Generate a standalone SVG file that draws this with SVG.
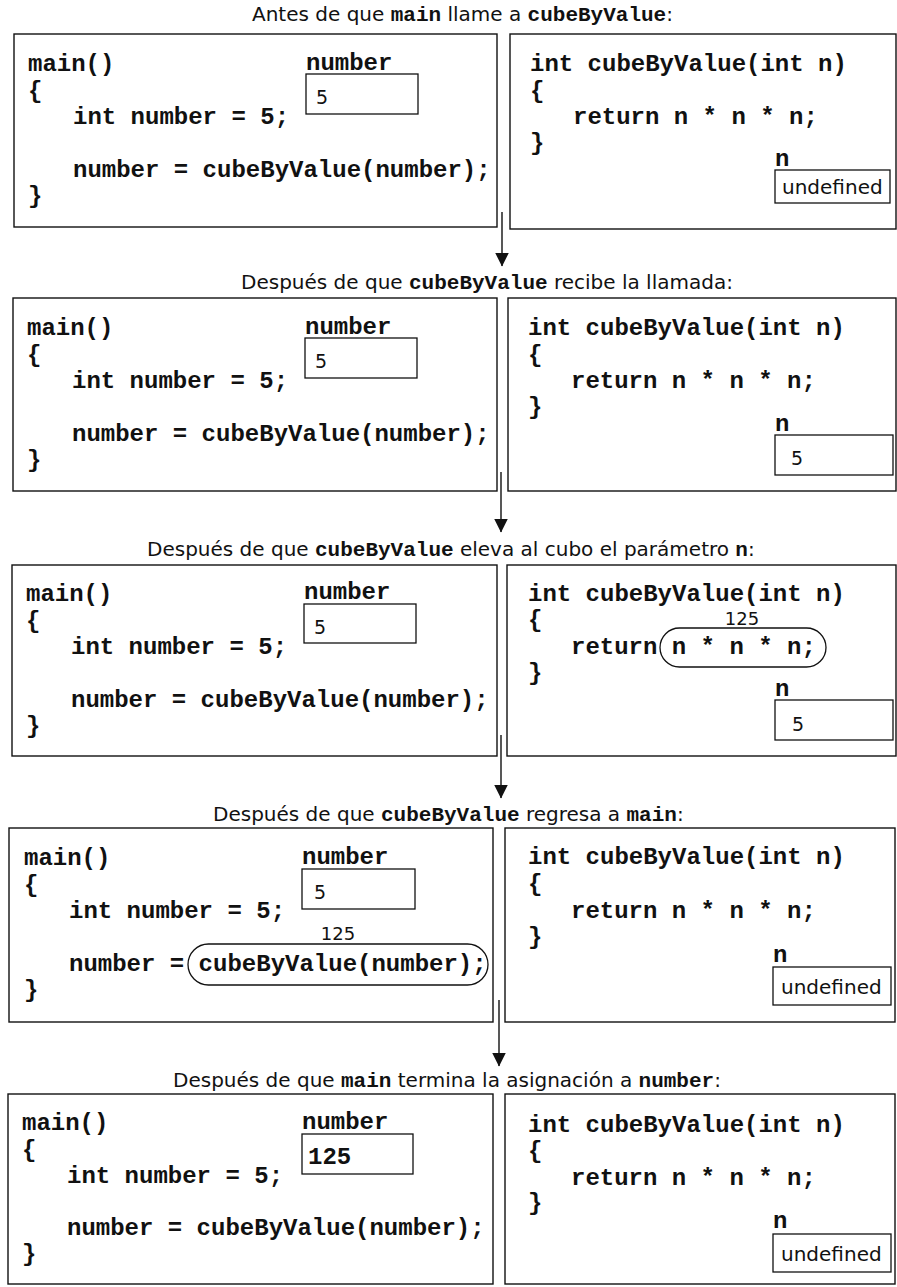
<svg xmlns="http://www.w3.org/2000/svg" width="897" height="1287" viewBox="0 0 897 1287">
  <style>
    .code { font-family: "Liberation Mono", "Courier New", monospace; font-weight: bold; font-size: 24px; fill: #111; }
    .ttl { font-family: "DejaVu Sans", "Liberation Sans", sans-serif; font-size: 20px; fill: #111; }
    .ttl .m { font-family: "Liberation Mono", "Courier New", monospace; font-weight: bold; font-size: 21px; }
    .val { font-family: "DejaVu Sans", "Liberation Sans", sans-serif; font-size: 19px; fill: #111; }
    .res { font-family: "DejaVu Sans", "Liberation Sans", sans-serif; font-size: 18px; fill: #111; }
    .undef { font-family: "DejaVu Sans", "Liberation Sans", sans-serif; font-size: 20px; fill: #111; }
    .frame { fill: #fff; stroke: #111; stroke-width: 1.4; }
    .cell { fill: none; stroke: #111; stroke-width: 1.3; }
    .oval { fill: none; stroke: #111; stroke-width: 1.3; }
    .flow { stroke: #111; stroke-width: 1.4; fill: none; }
  </style>
  <defs>
    <marker id="head" viewBox="0 0 14 16" refX="13.5" refY="7" markerWidth="14" markerHeight="16" markerUnits="userSpaceOnUse" orient="auto">
      <path d="M0,0 L14,7 L0,14 Z" fill="#111"/>
    </marker>
  </defs>

  <rect width="897" height="1287" fill="#fff"/>

  <!-- step titles -->
  <g id="titles">
    <text class="ttl" x="252" y="21">Antes de que <tspan class="m">main</tspan> llame a <tspan class="m">cubeByValue</tspan>:</text>
    <text class="ttl" x="241" y="289">Después de que <tspan class="m">cubeByValue</tspan> recibe la llamada:</text>
    <text class="ttl" x="147" y="556">Después de que <tspan class="m">cubeByValue</tspan> eleva al cubo el parámetro <tspan class="m">n</tspan>:</text>
    <text class="ttl" x="213" y="821">Después de que <tspan class="m">cubeByValue</tspan> regresa a <tspan class="m">main</tspan>:</text>
    <text class="ttl" x="173" y="1087">Después de que <tspan class="m">main</tspan> termina la asignación a <tspan class="m">number</tspan>:</text>
  </g>

  <!-- flow between the steps -->
  <g id="connectors">
    <line class="flow" x1="502" y1="212" x2="502" y2="266" marker-end="url(#head)"/>
    <line class="flow" x1="501" y1="472" x2="501" y2="532" marker-end="url(#head)"/>
    <line class="flow" x1="501" y1="735" x2="501" y2="798" marker-end="url(#head)"/>
    <line class="flow" x1="499" y1="1000" x2="499" y2="1066" marker-end="url(#head)"/>
  </g>

  <!-- step 1 -->
  <g id="main-1">
    <rect class="frame" x="14" y="34" width="483" height="193"/>
    <text class="code" x="28" y="71">main()</text>
    <text class="code" x="28" y="98">{</text>
    <text class="code" x="73" y="124">int number = 5;</text>
    <text class="code" x="73" y="177">number = cubeByValue(number);</text>
    <text class="code" x="28" y="203">}</text>
    <text class="code" x="306" y="70">number</text>
    <rect class="cell" x="306" y="74" width="112" height="40"/>
    <text class="val" x="316" y="104">5</text>
  </g>
  <g id="cube-1">
    <rect class="frame" x="510" y="34" width="386" height="195"/>
    <text class="code" x="530" y="71">int cubeByValue(int n)</text>
    <text class="code" x="530" y="98">{</text>
    <text class="code" x="573" y="124">return n * n * n;</text>
    <text class="code" x="530" y="150">}</text>
    <text class="code" x="775" y="166">n</text>
    <rect class="cell" x="775" y="170" width="115" height="33"/>
    <text class="undef" x="782" y="194">undefined</text>
  </g>

  <!-- step 2 -->
  <g id="main-2">
    <rect class="frame" x="13" y="298" width="484" height="193"/>
    <text class="code" x="27" y="335">main()</text>
    <text class="code" x="27" y="362">{</text>
    <text class="code" x="72" y="388">int number = 5;</text>
    <text class="code" x="72" y="441">number = cubeByValue(number);</text>
    <text class="code" x="27" y="467">}</text>
    <text class="code" x="305" y="334">number</text>
    <rect class="cell" x="305" y="338" width="112" height="40"/>
    <text class="val" x="315" y="368">5</text>
  </g>
  <g id="cube-2">
    <rect class="frame" x="508" y="298" width="388" height="193"/>
    <text class="code" x="528" y="335">int cubeByValue(int n)</text>
    <text class="code" x="528" y="362">{</text>
    <text class="code" x="571" y="388">return n * n * n;</text>
    <text class="code" x="528" y="414">}</text>
    <text class="code" x="775" y="431">n</text>
    <rect class="cell" x="775" y="435" width="118" height="40"/>
    <text class="val" x="791" y="465">5</text>
  </g>

  <!-- step 3 -->
  <g id="main-3">
    <rect class="frame" x="12" y="565" width="485" height="191"/>
    <text class="code" x="26" y="601">main()</text>
    <text class="code" x="26" y="628">{</text>
    <text class="code" x="71" y="654">int number = 5;</text>
    <text class="code" x="71" y="707">number = cubeByValue(number);</text>
    <text class="code" x="26" y="733">}</text>
    <text class="code" x="304" y="599">number</text>
    <rect class="cell" x="304" y="604" width="112" height="39"/>
    <text class="val" x="314" y="634">5</text>
  </g>
  <g id="cube-3">
    <rect class="frame" x="507" y="565" width="389" height="191"/>
    <text class="code" x="528" y="601">int cubeByValue(int n)</text>
    <text class="code" x="528" y="627">{</text>
    <text class="res" x="742" y="625" text-anchor="middle">125</text>
    <text class="code" x="571" y="654">return n * n * n;</text>
    <rect class="oval" x="660" y="628" width="166" height="39" rx="19.5"/>
    <text class="code" x="528" y="680">}</text>
    <text class="code" x="775" y="696">n</text>
    <rect class="cell" x="775" y="700" width="118" height="40"/>
    <text class="val" x="792" y="731">5</text>
  </g>

  <!-- step 4 -->
  <g id="main-4">
    <rect class="frame" x="9" y="828" width="484" height="194"/>
    <text class="code" x="24" y="865">main()</text>
    <text class="code" x="24" y="892">{</text>
    <text class="code" x="69" y="918">int number = 5;</text>
    <text class="res" x="338" y="940" text-anchor="middle">125</text>
    <text class="code" x="69" y="971">number = cubeByValue(number);</text>
    <rect class="oval" x="188" y="944" width="300" height="41" rx="20.5"/>
    <text class="code" x="24" y="997">}</text>
    <text class="code" x="302" y="864">number</text>
    <rect class="cell" x="302" y="869" width="113" height="40"/>
    <text class="val" x="314" y="899">5</text>
  </g>
  <g id="cube-4">
    <rect class="frame" x="505" y="828" width="390" height="194"/>
    <text class="code" x="528" y="864">int cubeByValue(int n)</text>
    <text class="code" x="528" y="891">{</text>
    <text class="code" x="571" y="918">return n * n * n;</text>
    <text class="code" x="528" y="944">}</text>
    <text class="code" x="773" y="962">n</text>
    <rect class="cell" x="773" y="967" width="118" height="38"/>
    <text class="undef" x="781" y="994">undefined</text>
  </g>

  <!-- step 5 -->
  <g id="main-5">
    <rect class="frame" x="8" y="1094" width="485" height="190"/>
    <text class="code" x="22" y="1130">main()</text>
    <text class="code" x="22" y="1157">{</text>
    <text class="code" x="67" y="1183">int number = 5;</text>
    <text class="code" x="67" y="1235">number = cubeByValue(number);</text>
    <text class="code" x="22" y="1261">}</text>
    <text class="code" x="302" y="1129">number</text>
    <rect class="cell" x="302" y="1134" width="111" height="40"/>
    <text class="code" x="308" y="1164">125</text>
  </g>
  <g id="cube-5">
    <rect class="frame" x="505" y="1094" width="390" height="190"/>
    <text class="code" x="528" y="1132">int cubeByValue(int n)</text>
    <text class="code" x="528" y="1158">{</text>
    <text class="code" x="571" y="1185">return n * n * n;</text>
    <text class="code" x="528" y="1210">}</text>
    <text class="code" x="773" y="1228">n</text>
    <rect class="cell" x="773" y="1234" width="118" height="38"/>
    <text class="undef" x="781" y="1261">undefined</text>
  </g>
</svg>
